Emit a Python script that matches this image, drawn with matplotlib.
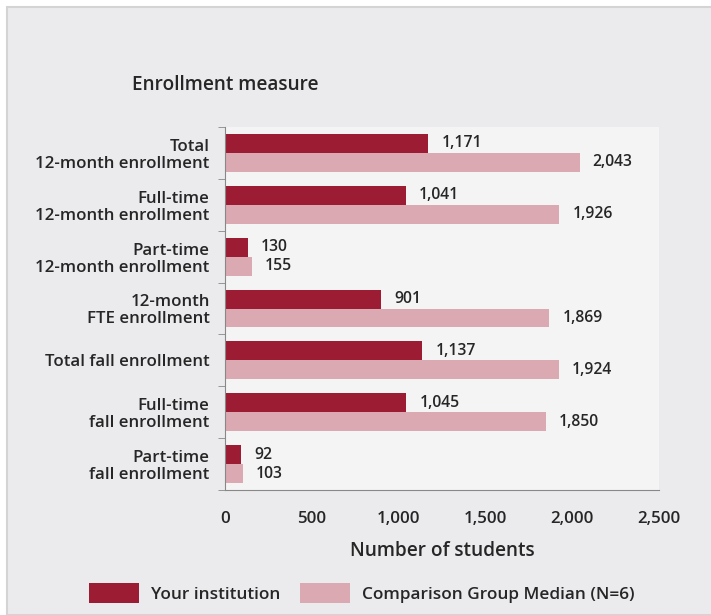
import matplotlib
matplotlib.use("Agg")
import matplotlib.pyplot as plt
from matplotlib.patches import Patch, Rectangle
import numpy as np

categories = ["Total\n12-month enrollment", "Full-time\n12-month enrollment",
              "Part-time\n12-month enrollment", "12-month\nFTE enrollment",
              "Total fall enrollment", "Full-time\nfall enrollment",
              "Part-time\nfall enrollment"]
your_inst = [1171, 1041, 130, 901, 1137, 1045, 92]
comparison = [2043, 1926, 155, 1869, 1924, 1850, 103]
xticks = [0, 500, 1000, 1500, 2000, 2500]
xticklabels = ["0", "500", "1,000", "1,500", "2,000", "2,500"]

dark = "#9c1c34"
light = "#dba9b2"
bg = "#ebebee"
txt = "#262626"

plt.rcParams['font.family'] = ['Open Sans', 'DejaVu Sans']
plt.rcParams['font.weight'] = 600
plt.rcParams['axes.labelweight'] = 600

fig = plt.figure(figsize=(7.11, 6.15), dpi=100, facecolor="white")
# outer panel
fig.patches.append(Rectangle((7/711, 0), 1, 1 - 7/615, transform=fig.transFigure,
                             facecolor=bg, edgecolor="#d4d4d4", lw=1.5, zorder=-5))
ax = fig.add_axes([225/711, 1 - 490/615, (659 - 225)/711, (490 - 127)/615])
ax.set_zorder(2)
ax.set_facecolor("#f4f4f5")

n = len(categories)
y = np.arange(n)
h = 0.365
fs = 12.2
vfs = 11.3
ax.barh(y - h/2, your_inst, height=h, color=dark, zorder=2)
ax.barh(y + h/2, comparison, height=h, color=light, zorder=2)
for yi, v in zip(y, your_inst):
    ax.text(v + 75, yi - h/2, f"{v:,}", va="center", ha="left", fontsize=vfs,
            color=txt)
for yi, v in zip(y, comparison):
    ax.text(v + 75, yi + h/2, f"{v:,}", va="center", ha="left", fontsize=vfs,
            color=txt)

ax.set_ylim(n - 0.5, -0.5)
ax.set_xlim(0, 2500)
ax.set_yticks(y)
ax.set_yticklabels(categories, fontsize=fs, color=txt, linespacing=1.08)
ax.tick_params(axis="y", length=0, pad=11)
ax.set_yticks(np.arange(n + 1) - 0.5, minor=True)
ax.tick_params(axis="y", which="minor", length=5, color="#888888")
ax.set_xticks(xticks)
ax.set_xticklabels(xticklabels, fontsize=fs, color=txt)
ax.tick_params(axis="x", length=0, pad=15)
for s in ["top", "right"]:
    ax.spines[s].set_visible(False)
for s in ["left", "bottom"]:
    ax.spines[s].set_color("#888888")
ax.set_xlabel("Number of students", fontsize=13.7, color=txt, labelpad=10)

fig.text(132/711, 1 - 85/615, "Enrollment measure", fontsize=13.7, color=txt,
         va="center", ha="left")

handles = [Patch(facecolor=dark), Patch(facecolor=light)]
leg = fig.legend(handles, ["Your institution", "Comparison Group Median (N=6)"],
                 loc="center", bbox_to_anchor=(362/711, 1 - 593/615), ncol=2,
                 frameon=False, fontsize=12.4, handlelength=2.9, handleheight=1.45,
                 columnspacing=1.15, handletextpad=0.7, borderpad=0)
for t in leg.get_texts():
    t.set_color(txt)

fig.savefig("out.png", dpi=100, facecolor=fig.get_facecolor())
